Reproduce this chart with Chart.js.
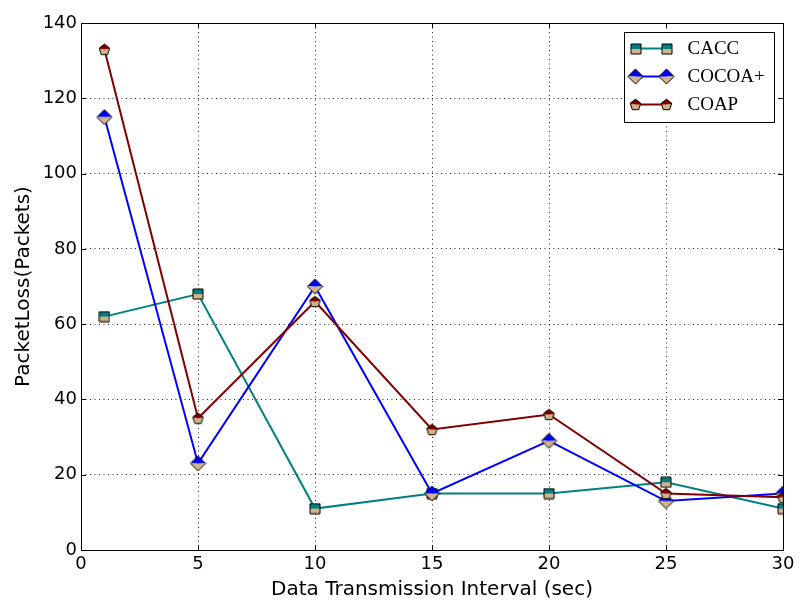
<!DOCTYPE html>
<html>
<head>
<meta charset="utf-8">
<script src="https://cdn.jsdelivr.net/npm/chart.js@4/dist/chart.umd.min.js"></script>
<style>
  html, body { margin: 0; padding: 0; background: #fff; }
  #wrap { width: 800px; height: 603px; }
</style>
</head>
<body>
<div id="wrap"><canvas id="chart" width="800" height="603"></canvas></div>
<script>
const intervals = [1, 5, 10, 15, 20, 25, 30];
const caccLoss = [62, 68, 11, 15, 15, 18, 11];
const cocoaLoss = [115, 23, 70, 15, 29, 13, 15];
const coapLoss = [133, 35, 66, 32, 36, 15, 14];
const seriesNames = ["CACC", "COCOA+", "COAP"];
const xTicks = [0, 5, 10, 15, 20, 25, 30];
const yTicks = [0, 20, 40, 60, 80, 100, 120, 140];

const TAN = "#d2b48c";

// half-filled marker: top half in colour, bottom half tan, black edge
const makeMarker = (shape, color, size) => {
    const c = document.createElement("canvas");
    c.width = size + 2;
    c.height = size + 2;
    const g = c.getContext("2d");
    const m = c.width / 2;
    const r = size / 2;
    const path = () => {
        g.beginPath();
        if (shape === "square") {
            g.rect(m - r, m - r, size, size);
        } else if (shape === "diamond") {
            g.moveTo(m, m - r);
            g.lineTo(m + r, m);
            g.lineTo(m, m + r);
            g.lineTo(m - r, m);
            g.closePath();
        } else {
            for (let i = 0; i < 5; i++) {
                const a = -Math.PI / 2 + i * 2 * Math.PI / 5;
                const px = m + r * Math.cos(a);
                const py = m + r * 1.05 * Math.sin(a) + 0.5;
                if (i === 0) g.moveTo(px, py); else g.lineTo(px, py);
            }
            g.closePath();
        }
    };
    g.save();
    path();
    g.clip();
    g.fillStyle = color;
    g.fillRect(0, 0, c.width, m);
    g.fillStyle = TAN;
    g.fillRect(0, m, c.width, c.height - m);
    g.restore();
    path();
    g.lineWidth = 1;
    g.strokeStyle = "#000";
    g.stroke();
    return c;
};

const colors = ["#008080", "#0000ff", "#800000"];
const markers = [
    makeMarker("square", colors[0], 10),
    makeMarker("diamond", colors[1], 15),
    makeMarker("pentagon", colors[2], 11),
];
const allSeries = [caccLoss, cocoaLoss, coapLoss];

const toPoints = (ys) => intervals.map((x, i) => ({ x: x, y: ys[i] }));

// frame, inward ticks and matplotlib-style legend
const framePlugin = {
    id: "frame",
    afterDraw(chart) {
        const ctx = chart.ctx;
        const a = chart.chartArea;
        const xs = chart.scales.x;
        const ys = chart.scales.y;
        ctx.save();
        ctx.strokeStyle = "#000";
        ctx.lineWidth = 1;
        ctx.setLineDash([]);
        ctx.strokeRect(Math.round(a.left) + 0.5, Math.round(a.top) + 0.5,
            Math.round(a.right - a.left), Math.round(a.bottom - a.top));
        ctx.beginPath();
        xTicks.forEach((v) => {
            const px = Math.round(xs.getPixelForValue(v)) + 0.5;
            ctx.moveTo(px, a.bottom); ctx.lineTo(px, a.bottom - 5);
            ctx.moveTo(px, a.top); ctx.lineTo(px, a.top + 5);
        });
        yTicks.forEach((v) => {
            const py = Math.round(ys.getPixelForValue(v)) + 0.5;
            ctx.moveTo(a.left, py); ctx.lineTo(a.left + 5, py);
            ctx.moveTo(a.right, py); ctx.lineTo(a.right - 5, py);
        });
        ctx.stroke();

        // legend
        const bx = Math.round(a.right) - 159 + 0.5;
        const by = Math.round(a.top) + 9 + 0.5;
        ctx.fillStyle = "#fff";
        ctx.fillRect(bx, by, 150, 90);
        ctx.strokeRect(bx, by, 150, 90);
        ctx.font = "19px 'Liberation Serif', serif";
        ctx.textBaseline = "middle";
        seriesNames.forEach((name, i) => {
            const ry = by + 16 + i * 28;
            ctx.strokeStyle = colors[i];
            ctx.lineWidth = 2;
            ctx.beginPath();
            ctx.moveTo(bx + 11, ry);
            ctx.lineTo(bx + 42, ry);
            ctx.stroke();
            [bx + 11, bx + 42].forEach((mx) => {
                const mk = markers[i];
                ctx.drawImage(mk, Math.round(mx - mk.width / 2), Math.round(ry - mk.height / 2));
            });
            ctx.fillStyle = "#000";
            ctx.fillText(name, bx + 63, ry + 1);
        });
        ctx.restore();
    },
};

const tickFont = { family: "'DejaVu Sans', sans-serif", size: 18 };
const titleFont = { family: "'DejaVu Sans', sans-serif", size: 20 };

new Chart(document.getElementById("chart"), {
    type: "line",
    data: {
        datasets: seriesNames.map((name, i) => ({
            label: name,
            data: toPoints(allSeries[i]),
            borderColor: colors[i],
            borderWidth: 2,
            pointStyle: markers[i],
            pointRadius: 6,
            tension: 0,
            fill: false,
            order: 2 - i,
        })),
    },
    options: {
        responsive: false,
        animation: false,
        events: [],
        layout: { padding: { left: 0, top: 23, right: 17, bottom: 0 } },
        plugins: {
            legend: { display: false },
            tooltip: { enabled: false },
        },
        scales: {
            x: {
                type: "linear",
                min: 0,
                max: 30,
                afterBuildTicks: (s) => { s.ticks = xTicks.map((v) => ({ value: v })); },
                afterFit: (s) => { s.height = 53; },
                ticks: { color: "#000", font: tickFont, padding: 4, maxRotation: 0 },
                grid: { color: "rgba(0,0,0,0.85)", lineWidth: 1, drawTicks: false },
                border: { display: false, dash: [1, 3.5] },
                title: {
                    display: true,
                    text: "Data Transmission Interval (sec)",
                    color: "#000",
                    font: titleFont,
                    padding: { top: 0, bottom: 1 },
                },
            },
            y: {
                type: "linear",
                min: 0,
                max: 140,
                afterBuildTicks: (s) => { s.ticks = yTicks.map((v) => ({ value: v })); },
                afterFit: (s) => { s.width = 81; },
                ticks: { color: "#000", font: tickFont, padding: 4 },
                grid: { color: "rgba(0,0,0,0.85)", lineWidth: 1, drawTicks: false },
                border: { display: false, dash: [1, 3.5] },
                title: {
                    display: true,
                    text: "PacketLoss(Packets)",
                    color: "#000",
                    font: titleFont,
                    padding: { top: 12, bottom: 0 },
                },
            },
        },
    },
    plugins: [framePlugin],
});
</script>
</body>
</html>
